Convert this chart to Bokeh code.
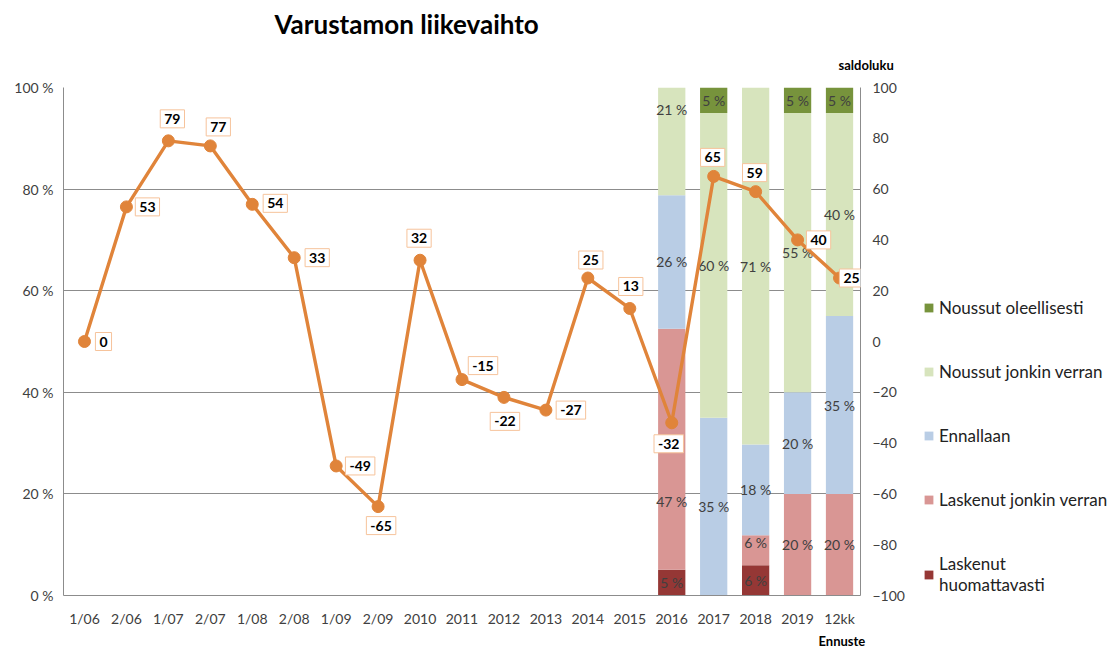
from bokeh.plotting import figure
from bokeh.layouts import row
from bokeh.models import (ColumnDataSource, Range1d, LinearAxis, FixedTicker,
                          PrintfTickFormatter, Label, Legend, LegendItem, Title)
from bokeh.embed import file_html
from bokeh.resources import INLINE
from bokeh.core.properties import value

# ---------------- data ----------------
categories = ["1/06", "2/06", "1/07", "2/07", "1/08", "2/08", "1/09", "2/09",
              "2010", "2011", "2012", "2013", "2014", "2015", "2016", "2017",
              "2018", "2019", "12kk"]
saldoluku = [0, 53, 79, 77, 54, 33, -49, -65, 32, -15, -22, -27, 25, 13, -32,
             65, 59, 40, 25]

bar_years = ["2016", "2017", "2018", "2019", "12kk"]
laskenut_huomattavasti = [5, 0, 6, 0, 0]
laskenut_jonkin_verran = [47, 0, 6, 20, 20]
ennallaan = [26, 35, 18, 20, 35]
noussut_jonkin_verran = [21, 60, 71, 55, 40]
noussut_oleellisesti = [0, 5, 0, 5, 5]

series_names = ["Laskenut huomattavasti", "Laskenut jonkin verran", "Ennallaan",
                "Noussut jonkin verran", "Noussut oleellisesti"]

# ---------------- style ----------------
FONT = "Lato"
colors = ["#953735", "#D99694", "#B9CDE5", "#D7E4BD", "#77933C"]
legend_labels = ["Laskenut\nhuomattavasti", "Laskenut jonkin verran", "Ennallaan",
                 "Noussut jonkin verran", "Noussut oleellisesti"]
line_color = "#E0843A"
label_dx = [19, 21, 4, 8, 23, 23, 24, 3, -1, 21, 1, 25, 3, 1, -3, -1, -1, 21, 12]
label_dy = [0, 0, 22, 19, 1, 0, 0, -19, 22, 14, -24, 0, 18, 22, -21, 19, 19, 0, 0]
# pixel nudges of a few bar value labels (year, series index) -> screen px down
bar_label_nudge = {("2016", 1): 52, ("2016", 3): -32, ("2018", 1): -8}

series = [laskenut_huomattavasti, laskenut_jonkin_verran, ennallaan,
          noussut_jonkin_verran, noussut_oleellisesti]
keys = ["lh", "lj", "en", "nj", "no"]

# 100 % stacked: each bar normalised to its own total
totals = [sum(s[j] for s in series) for j in range(len(bar_years))]
norm = {k: [s[j] * 100.0 / totals[j] for j in range(len(bar_years))]
        for k, s in zip(keys, series)}

p = figure(width=907, height=650, x_range=categories, y_range=Range1d(0, 100),
           output_backend="svg", toolbar_location=None,
           min_border_left=63, min_border_right=45, min_border_top=87,
           min_border_bottom=51, title=None)
p.extra_y_ranges = {"saldo": Range1d(-100, 100)}
p.outline_line_color = None
p.background_fill_color = "white"
p.border_fill_color = "white"

bar_src = ColumnDataSource(dict(x=bar_years, **norm))
renderers = p.vbar_stack(keys, x="x", width=0.65, color=colors, source=bar_src,
                         line_color=None)

# bar value labels
tx, ty, tt, toff = [], [], [], []
for j, yr in enumerate(bar_years):
    base = 0
    for si, (k, s) in enumerate(zip(keys, series)):
        v = s[j]
        h = norm[k][j]
        if v > 0:
            tx.append(yr)
            ty.append(base + h / 2)
            tt.append(f"{v} %")
            toff.append(bar_label_nudge.get((yr, si), 0))
        base += h
p.text(x=tx, y=ty, text=tt, y_offset=toff, text_align="center",
       text_baseline="middle", text_font=value(FONT), text_font_size="14px",
       text_color="#404040")

# line
p.line(x=categories, y=saldoluku, y_range_name="saldo", line_color=line_color,
       line_width=3.4)
p.scatter(x=categories, y=saldoluku, y_range_name="saldo", size=12,
          fill_color=line_color, line_color=line_color)

for i, v in enumerate(saldoluku):
    p.add_layout(Label(x=i + 0.5, y=v, y_range_name="saldo", text=str(v),
                       x_offset=label_dx[i], y_offset=label_dy[i],
                       text_align="center", text_baseline="middle",
                       text_font=FONT, text_font_style="bold",
                       text_font_size="14px", text_color="black",
                       background_fill_color="white",
                       border_line_color="#F6C39B", border_line_width=1,
                       padding=4))

# axes
p.xgrid.visible = False
p.ygrid.grid_line_color = "#8C8C8C"
p.ygrid.grid_line_width = 1
p.yaxis[0].ticker = FixedTicker(ticks=[0, 20, 40, 60, 80, 100])
p.yaxis[0].formatter = PrintfTickFormatter(format="%d %%")

right_axis = LinearAxis(y_range_name="saldo",
                        ticker=FixedTicker(ticks=list(range(-100, 101, 20))))
p.add_layout(right_axis, "right")

for ax in [p.xaxis[0], p.yaxis[0], right_axis]:
    ax.major_tick_line_color = None
    ax.minor_tick_line_color = None
    ax.major_tick_out = 0
    ax.major_tick_in = 0
    ax.minor_tick_out = 0
    ax.minor_tick_in = 0
    ax.axis_line_color = "#8C8C8C"
    ax.major_label_text_color = "#404040"
    ax.major_label_text_font = FONT
    ax.major_label_text_font_size = "14px"
p.yaxis[0].major_label_standoff = 10
right_axis.major_label_standoff = 12
p.xaxis[0].major_label_standoff = 14

# titles and other texts
p.add_layout(Title(text="saldoluku", text_font=FONT, text_font_style="bold",
                   text_font_size="13px", align="left", offset=775,
                   standoff=30, text_color="black"), "above")
p.add_layout(Title(text="Varustamon liikevaihto", text_font=FONT,
                   text_font_style="bold", text_font_size="26px", align="left",
                   offset=211, standoff=0, text_color="black"), "above")
p.add_layout(Title(text="Ennuste", text_font=FONT, text_font_style="bold",
                   text_font_size="13px", align="left", offset=755,
                   standoff=3, text_color="black"), "below")

# legend (separate panel on the right)
lg = figure(width=207, height=650, output_backend="svg", toolbar_location=None,
            min_border=0, x_range=(0, 1), y_range=(0, 1), title=None,
            x_axis_location=None, y_axis_location=None)
lg.grid.visible = False
lg.outline_line_color = None
lg_r = [lg.vbar(x=[5], top=[5], bottom=[4], width=0.5, fill_color=c,
                line_color=None) for c in colors]
items = [LegendItem(label=legend_labels[k], renderers=[lg_r[k]])
         for k in [4, 3, 2, 1, 0]]
legend = Legend(items=items, location=(16, 0), glyph_width=11,
                glyph_height=11, label_text_font=FONT, label_text_font_size="17px",
                label_text_color="#222222", label_height=21, spacing=43,
                padding=0, margin=0, label_standoff=5,
                border_line_color=None, background_fill_alpha=0)
lg.add_layout(legend)

open("out.html", "w").write(file_html(row(p, lg), INLINE))
